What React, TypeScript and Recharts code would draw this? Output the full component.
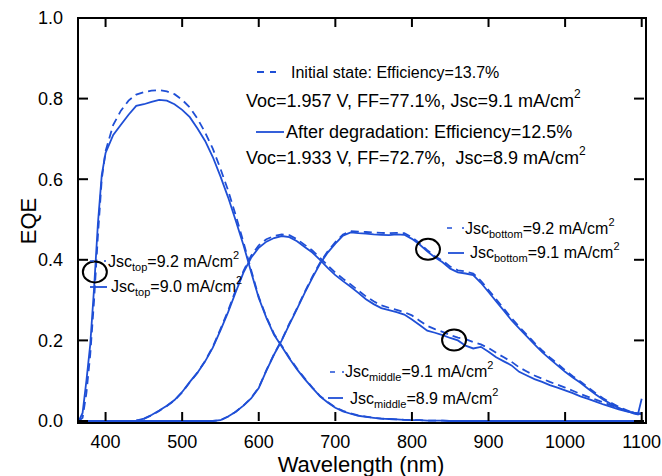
import React from "react";
import { LineChart, Line, XAxis, YAxis, ReferenceDot } from "recharts";

const wavelength = [
  365, 370, 375, 380, 385, 390, 395, 400, 410, 420,
  430, 440, 450, 460, 470, 480, 490, 500, 510, 520,
  530, 540, 550, 560, 570, 580, 590, 600, 610, 620,
  630, 640, 650, 660, 670, 680, 690, 700, 710, 720,
  730, 740, 750, 760, 770, 780, 790, 800, 810, 820,
  830, 840, 850, 860, 870, 880, 890, 900, 910, 920,
  930, 940, 950, 960, 970, 980, 990, 1000, 1010, 1020,
  1030, 1040, 1050, 1060, 1070, 1080, 1090, 1095, 1100,
];

// top cell
const topInitial = [
  0, 0.008, 0.07, 0.165, 0.3, 0.46, 0.6, 0.67, 0.735, 0.77,
  0.795, 0.81, 0.816, 0.82, 0.821, 0.818, 0.811, 0.797, 0.778, 0.75,
  0.716, 0.676, 0.626, 0.572, 0.51, 0.444, 0.375, 0.308, 0.258, 0.216,
  0.187, 0.157, 0.13, 0.106, 0.083, 0.062, 0.047, 0.034, 0.025, 0.019,
  0.014, 0.011, 0.008, 0.006, 0.005, 0.004, 0.003, 0.002, 0.002, 0.001,
  0.001, 0.001, 0, 0, 0, 0, 0, 0, 0, 0,
  0, 0, 0, 0, 0, 0, 0, 0, 0, 0,
  0, 0, 0, 0, 0, 0, 0, 0, 0,
];
const topDegraded = [
  0, 0.02, 0.1, 0.19, 0.33, 0.49, 0.61, 0.665, 0.71, 0.735,
  0.76, 0.782, 0.786, 0.792, 0.797, 0.795, 0.786, 0.772, 0.754, 0.726,
  0.695, 0.655, 0.607, 0.555, 0.497, 0.437, 0.37, 0.305, 0.256, 0.214,
  0.185, 0.155, 0.128, 0.104, 0.082, 0.061, 0.046, 0.033, 0.024, 0.018,
  0.013, 0.01, 0.008, 0.006, 0.005, 0.004, 0.003, 0.002, 0.002, 0.001,
  0.001, 0.001, 0, 0, 0, 0, 0, 0, 0, 0,
  0, 0, 0, 0, 0, 0, 0, 0, 0, 0,
  0, 0, 0, 0, 0, 0, 0, 0, 0,
];

// middle cell
const middleInitial = [
  0, 0, 0, 0, 0, 0, 0, 0, 0, 0,
  0, 0.001, 0.005, 0.014, 0.025, 0.037, 0.051, 0.071, 0.096, 0.12,
  0.149, 0.184, 0.228, 0.274, 0.325, 0.372, 0.41, 0.436, 0.451, 0.459,
  0.463, 0.461, 0.451, 0.437, 0.423, 0.405, 0.386, 0.368, 0.353, 0.339,
  0.324, 0.309, 0.297, 0.287, 0.281, 0.276, 0.27, 0.262, 0.249, 0.236,
  0.228, 0.221, 0.213, 0.207, 0.203, 0.196, 0.19, 0.181, 0.169, 0.158,
  0.147, 0.133, 0.123, 0.113, 0.105, 0.097, 0.09, 0.083, 0.075, 0.067,
  0.06, 0.053, 0.046, 0.039, 0.032, 0.026, 0.021, 0.019, 0.018,
];
const middleDegraded = [
  0, 0, 0, 0, 0, 0, 0, 0, 0, 0,
  0, 0.001, 0.006, 0.015, 0.026, 0.038, 0.052, 0.072, 0.097, 0.12,
  0.148, 0.182, 0.225, 0.27, 0.32, 0.368, 0.405, 0.43, 0.445, 0.454,
  0.459, 0.456, 0.446, 0.432, 0.418, 0.4, 0.38, 0.362, 0.347, 0.333,
  0.318, 0.302, 0.29, 0.28, 0.275, 0.27, 0.264, 0.252, 0.238, 0.224,
  0.219, 0.213, 0.206, 0.2, 0.187, 0.18, 0.184, 0.172, 0.158, 0.148,
  0.138, 0.122, 0.113, 0.104, 0.097, 0.089, 0.083, 0.076, 0.069, 0.061,
  0.055, 0.048, 0.041, 0.035, 0.029, 0.024, 0.02, 0.018, 0.017,
];

// bottom cell
const bottomInitial = [
  0, 0, 0, 0, 0, 0, 0, 0, 0, 0,
  0, 0, 0, 0, 0, 0, 0, 0, 0, 0,
  0, 0, 0.002, 0.011, 0.023, 0.038, 0.057, 0.083, 0.126, 0.166,
  0.201, 0.242, 0.28, 0.32, 0.358, 0.393, 0.421, 0.444, 0.463, 0.471,
  0.47, 0.469, 0.468, 0.467, 0.466, 0.467, 0.466, 0.456, 0.441, 0.424,
  0.409, 0.398, 0.383, 0.374, 0.371, 0.366, 0.348, 0.325, 0.302, 0.279,
  0.255, 0.234, 0.214, 0.194, 0.175, 0.158, 0.142, 0.126, 0.111, 0.098,
  0.083, 0.069, 0.056, 0.045, 0.035, 0.027, 0.02, 0.018, 0.02,
];
const bottomDegraded = [
  0, 0, 0, 0, 0, 0, 0, 0, 0, 0,
  0, 0, 0, 0, 0, 0, 0, 0, 0, 0,
  0, 0, 0.002, 0.011, 0.023, 0.038, 0.056, 0.082, 0.125, 0.165,
  0.2, 0.24, 0.278, 0.318, 0.355, 0.39, 0.418, 0.44, 0.46, 0.468,
  0.466, 0.465, 0.463, 0.462, 0.461, 0.463, 0.462, 0.452, 0.438, 0.421,
  0.406, 0.394, 0.378, 0.369, 0.366, 0.362, 0.343, 0.32, 0.297, 0.274,
  0.25, 0.23, 0.21, 0.19, 0.171, 0.154, 0.138, 0.122, 0.108, 0.095,
  0.08, 0.066, 0.053, 0.042, 0.032, 0.025, 0.018, 0.016, 0.055,
];

const xTicks = [400, 500, 600, 700, 800, 900, 1000, 1100];
const yTicks = [0, 0.2, 0.4, 0.6, 0.8, 1.0];

// circled points [wavelength, EQE]
const circles = [
  [386, 0.37],
  [821, 0.426],
  [855, 0.201],
];

const rows = wavelength.map((wl, i) => ({
  wl,
  topInitial: topInitial[i],
  topDegraded: topDegraded[i],
  middleInitial: middleInitial[i],
  middleDegraded: middleDegraded[i],
  bottomInitial: bottomInitial[i],
  bottomDegraded: bottomDegraded[i],
}));

const X_MIN = 364;
const X_MAX = 1103;
const Y_MIN = 0;
const Y_MAX = 1;

// plot box follows from the chart margins and axis sizes below
const W = 662;
const H = 476;
const M = { top: 18, right: 18, bottom: 0, left: 0 };
const Y_AXIS_W = 78;
const X_AXIS_H = 55;
const PLOT = {
  left: M.left + Y_AXIS_W,
  top: M.top,
  width: W - M.left - M.right - Y_AXIS_W,
  height: H - M.top - M.bottom - X_AXIS_H,
};
const px = (wl: number) => PLOT.left + ((wl - X_MIN) / (X_MAX - X_MIN)) * PLOT.width;
const py = (v: number) => PLOT.top + ((Y_MAX - v) / (Y_MAX - Y_MIN)) * PLOT.height;

const BLUE = "#1f4fd6";
const FONT = "'Liberation Sans', Arial, Helvetica, sans-serif";

function Note({ x, y, sub, rest }: { x: number; y: number; sub: string; rest: string }) {
  return (
    <text x={x} y={y} fontSize={16} fill="#000">
      Jsc
      <tspan fontSize={11} dy={4}>{sub}</tspan>
      <tspan dy={-4}>{rest}</tspan>
      <tspan fontSize={11} dy={-8}>2</tspan>
    </text>
  );
}

// inward ticks on all four sides
function Ticks() {
  const b = PLOT.top + PLOT.height;
  const r = PLOT.left + PLOT.width;
  return (
    <g>
      {xTicks.map((t) => (
        <g key={"x" + t}>
          <line x1={px(t)} x2={px(t)} y1={b} y2={b - 9} stroke="#000" strokeWidth={2} />
          <line x1={px(t)} x2={px(t)} y1={PLOT.top} y2={PLOT.top + 9} stroke="#000" strokeWidth={2} />
        </g>
      ))}
      {yTicks.map((v) => (
        <g key={"y" + v}>
          <line x1={PLOT.left} x2={PLOT.left + 10} y1={py(v)} y2={py(v)} stroke="#000" strokeWidth={2} />
          <line x1={r} x2={r - 10} y1={py(v)} y2={py(v)} stroke="#000" strokeWidth={2} />
        </g>
      ))}
    </g>
  );
}

export default function App() {
  const series = [
    { key: "topInitial", dashed: true },
    { key: "topDegraded", dashed: false },
    { key: "middleInitial", dashed: true },
    { key: "middleDegraded", dashed: false },
    { key: "bottomInitial", dashed: true },
    { key: "bottomDegraded", dashed: false },
  ];

  return (
    <div
      style={{
        position: "absolute",
        left: 0,
        top: 0,
        width: W,
        height: H,
        background: "#fff",
        fontFamily: FONT,
      }}
    >
      <LineChart width={W} height={H} data={rows} margin={M}>
        <XAxis
          dataKey="wl"
          type="number"
          domain={[X_MIN, X_MAX]}
          ticks={xTicks}
          height={X_AXIS_H}
          tickSize={-9}
          tickMargin={23}
          axisLine={false}
          tickLine={false}
          tick={{ fill: "#000", fontSize: 18, fontFamily: FONT }}
        />
        <YAxis
          type="number"
          domain={[Y_MIN, Y_MAX]}
          ticks={yTicks}
          width={Y_AXIS_W}
          tickSize={-10}
          tickMargin={25}
          axisLine={false}
          tickLine={false}
          tickFormatter={(v: number) => v.toFixed(1)}
          tick={{ fill: "#000", fontSize: 18, fontFamily: FONT }}
        />
        {series.map((s) => (
          <Line
            key={s.key}
            type="linear"
            dataKey={s.key}
            stroke={BLUE}
            strokeWidth={1.8}
            strokeDasharray={s.dashed ? "8 5" : undefined}
            dot={false}
            activeDot={false}
            isAnimationActive={false}
          />
        ))}
        {circles.map(([wl, v], i) => (
          <ReferenceDot
            key={i}
            x={wl}
            y={v}
            r={11}
            shape={(p: any) => (
              <ellipse cx={p.cx} cy={p.cy} rx={12} ry={10.5} fill="none" stroke="#000" strokeWidth={2} />
            )}
          />
        ))}
      </LineChart>

      {/* plot frame as a plain bordered box */}
      <div
        style={{
          position: "absolute",
          left: PLOT.left - 1,
          top: PLOT.top - 1,
          width: PLOT.width,
          height: PLOT.height,
          border: "2px solid #000",
          pointerEvents: "none",
        }}
      />

      <svg
        width={W}
        height={H}
        style={{ position: "absolute", left: 0, top: 0, pointerEvents: "none", fontFamily: FONT }}
      >
        <Ticks />

        {/* axis titles */}
        <text x={361} y={472} fontSize={22} textAnchor="middle" fill="#000">
          Wavelength (nm)
        </text>
        <text
          transform="translate(36,221) rotate(-90)"
          fontSize={22}
          textAnchor="middle"
          fill="#000"
        >
          EQE
        </text>

        {/* legend block */}
        <line x1={257} y1={72} x2={276} y2={72} stroke={BLUE} strokeWidth={1.8} strokeDasharray="7 6" />
        <text x={291} y={78} fontSize={16} fill="#000">Initial state: Efficiency=13.7%</text>
        <text x={246} y={107} fontSize={18} fill="#000">
          Voc=1.957 V, FF=77.1%, Jsc=9.1 mA/cm
          <tspan fontSize={12} dy={-9}>2</tspan>
        </text>
        <line x1={256} y1={132} x2={284} y2={132} stroke={BLUE} strokeWidth={1.8} />
        <text x={286} y={138} fontSize={18} fill="#000">After degradation: Efficiency=12.5%</text>
        <text x={246} y={164} fontSize={18} fill="#000" style={{ whiteSpace: "pre" }}>
          {"Voc=1.933 V, FF=72.7%,  Jsc=8.9 mA/cm"}
          <tspan fontSize={12} dy={-9}>2</tspan>
        </text>

        {/* Jsc notes */}
        <line x1={90} y1={261} x2={106} y2={261} stroke={BLUE} strokeWidth={1.5} strokeDasharray="4 10" />
        <Note x={108} y={267} sub="top" rest="=9.2 mA/cm" />
        <line x1={90} y1={287} x2={107} y2={287} stroke={BLUE} strokeWidth={1.8} />
        <Note x={111} y={292} sub="top" rest="=9.0 mA/cm" />

        <line x1={447} y1={228} x2={464} y2={228} stroke={BLUE} strokeWidth={1.5} strokeDasharray="5 10" />
        <Note x={465} y={234} sub="bottom" rest="=9.2 mA/cm" />
        <line x1={448} y1={253} x2={464} y2={253} stroke={BLUE} strokeWidth={1.8} />
        <Note x={470} y={258} sub="bottom" rest="=9.1 mA/cm" />

        <line x1={330} y1={372} x2={344} y2={372} stroke={BLUE} strokeWidth={1.5} strokeDasharray="5 7" />
        <Note x={345} y={377} sub="middle" rest="=9.1 mA/cm" />
        <line x1={328} y1={398} x2={343} y2={398} stroke={BLUE} strokeWidth={1.8} />
        <Note x={350} y={404} sub="middle" rest="=8.9 mA/cm" />
      </svg>
    </div>
  );
}
